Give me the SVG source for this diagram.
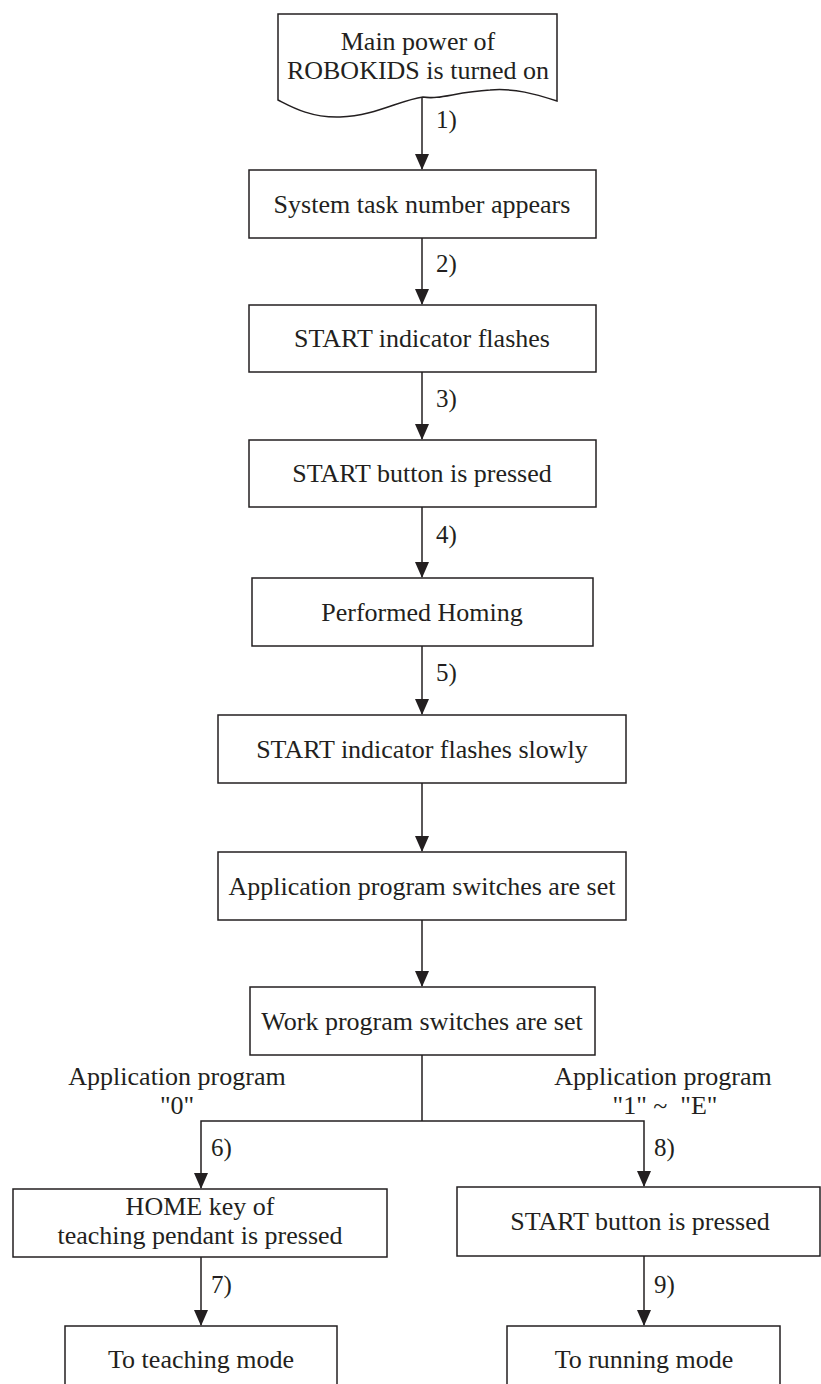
<svg xmlns="http://www.w3.org/2000/svg" width="821" height="1384" viewBox="0 0 821 1384">
<style>
.box{fill:#fff;stroke:#231f20;stroke-width:1.5}
.t{font-family:"Liberation Serif","Times New Roman",serif;font-size:26px;fill:#231f20;text-anchor:middle}
.l{font-family:"Liberation Serif","Times New Roman",serif;font-size:25px;fill:#231f20}
.c{fill:none;stroke:#231f20;stroke-width:1.5}
.ah{fill:#231f20}
</style>
<rect width="821" height="1384" fill="#fff"/>
<g id="connectors">
<path class="c" d="M422,98 V169"/>
<path class="ah" d="M415,154 L429,154 L422,170 Z"/>
<path class="c" d="M422,238 V304"/>
<path class="ah" d="M415,289 L429,289 L422,305 Z"/>
<path class="c" d="M422,372 V439"/>
<path class="ah" d="M415,424 L429,424 L422,440 Z"/>
<path class="c" d="M422,507 V577"/>
<path class="ah" d="M415,562 L429,562 L422,578 Z"/>
<path class="c" d="M422,646 V714"/>
<path class="ah" d="M415,699 L429,699 L422,715 Z"/>
<path class="c" d="M422,783 V851"/>
<path class="ah" d="M415,836 L429,836 L422,852 Z"/>
<path class="c" d="M422,920 V986"/>
<path class="ah" d="M415,971 L429,971 L422,987 Z"/>
<path class="c" d="M422,1055 V1121 M201,1188 V1121 H644 V1186"/>
<path class="ah" d="M194,1173 L208,1173 L201,1189 Z"/>
<path class="ah" d="M637,1171 L651,1171 L644,1187 Z"/>
<path class="c" d="M201,1257 V1325"/>
<path class="ah" d="M194,1310 L208,1310 L201,1326 Z"/>
<path class="c" d="M644,1256 V1325"/>
<path class="ah" d="M637,1310 L651,1310 L644,1326 Z"/>
<text class="l" x="436" y="128">1)</text>
<text class="l" x="436" y="272">2)</text>
<text class="l" x="436" y="407">3)</text>
<text class="l" x="436" y="543">4)</text>
<text class="l" x="436" y="681">5)</text>
<text class="l" x="211" y="1156">6)</text>
<text class="l" x="654" y="1156">8)</text>
<text class="l" x="211" y="1293">7)</text>
<text class="l" x="654" y="1293">9)</text>
<text class="t" x="177" y="1085">Application program</text>
<text class="t" x="177" y="1114">"0"</text>
<text class="t" x="663" y="1085">Application program</text>
<text class="t" x="665" y="1114" xml:space="preserve">"1" ~  "E"</text>
</g>
<g id="start">
<path class="box" d="M278,14 H557 V101 C535,94 515,88 490,90 C455,92 440,100 423,97 C400,100 375,116 340,117 C310,118 290,106 278,100 Z"/>
<text class="t" x="418" y="50">Main power of</text>
<text class="t" x="418" y="79">ROBOKIDS is turned on</text>
</g>
<g id="n1"><rect class="box" x="249" y="170" width="347" height="68"/><text class="t" x="422" y="213">System task number appears</text></g>
<g id="n2"><rect class="box" x="249" y="305" width="347" height="67"/><text class="t" x="422" y="347">START indicator flashes</text></g>
<g id="n3"><rect class="box" x="249" y="440" width="347" height="67"/><text class="t" x="422" y="482">START button is pressed</text></g>
<g id="n4"><rect class="box" x="252" y="578" width="341" height="68"/><text class="t" x="422" y="621">Performed Homing</text></g>
<g id="n5"><rect class="box" x="218" y="715" width="408" height="68"/><text class="t" x="422" y="758">START indicator flashes slowly</text></g>
<g id="n6"><rect class="box" x="218" y="852" width="408" height="68"/><text class="t" x="422" y="895">Application program switches are set</text></g>
<g id="n7"><rect class="box" x="250" y="987" width="345" height="68"/><text class="t" x="422" y="1030">Work program switches are set</text></g>
<g id="n8"><rect class="box" x="13" y="1189" width="374" height="68"/><text class="t" x="200" y="1215">HOME key of</text><text class="t" x="200" y="1244">teaching pendant is pressed</text></g>
<g id="n9"><rect class="box" x="457" y="1187" width="363" height="69"/><text class="t" x="640" y="1230">START button is pressed</text></g>
<g id="n10"><rect class="box" x="65" y="1326" width="272" height="70"/><text class="t" x="201" y="1368">To teaching mode</text></g>
<g id="n11"><rect class="box" x="507" y="1326" width="273" height="70"/><text class="t" x="644" y="1368">To running mode</text></g>
</svg>
